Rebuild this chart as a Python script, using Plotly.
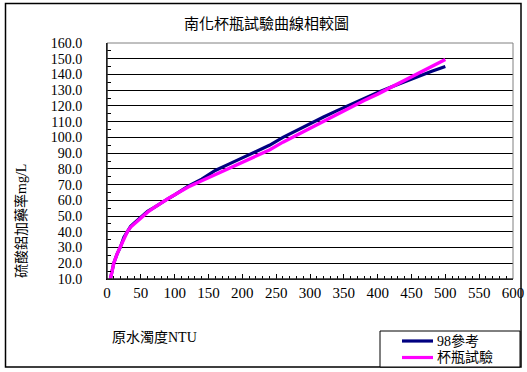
import plotly.graph_objects as go

# 原水濁度 (NTU)
turbidity = [5, 10, 15, 20, 25, 30, 35, 40, 50, 60, 70, 80, 90, 100, 120, 140, 160, 180, 200,
             220, 240, 260, 280, 300, 320, 340, 360, 380, 400, 420, 440, 460, 480, 500]

# 98參考 加藥率 (mg/L)
ref98 = [10.0, 20.0, 26.0, 30.5, 36.5, 40.5, 43.5, 45.5, 49.5, 53.0, 55.5, 58.5, 61.0, 63.5,
         69.0, 73.5, 79.0, 83.0, 87.0, 91.0, 95.0, 100.0, 104.5, 109.0, 113.0, 117.0, 121.0,
         125.0, 128.5, 132.0, 135.5, 139.0, 142.0, 145.0]

# 杯瓶試驗 加藥率 (mg/L)
jar_test = [10.0, 20.0, 26.0, 30.5, 36.0, 40.0, 43.0, 45.0, 49.0, 52.5, 55.5, 58.5, 61.0, 63.5,
            68.5, 72.5, 76.5, 80.5, 84.5, 88.0, 92.0, 97.0, 101.5, 106.0, 110.5, 115.0, 119.0,
            123.5, 127.5, 132.0, 136.5, 141.0, 145.0, 149.5]

series_names = ["98參考", "杯瓶試驗"]
series_colors = ["#000080", "#FF00FF"]

y_ticks = [10, 20, 30, 40, 50, 60, 70, 80, 90, 100, 110, 120, 130, 140, 150, 160]
y_tick_text = [f"{v:.1f}" for v in y_ticks]
x_ticks = [0, 50, 100, 150, 200, 250, 300, 350, 400, 450, 500, 550, 600]

W, H = 527, 372
L, R, T, B = 107, 14, 43, 93
PW, PH = W - L - R, H - T - B


def px(x):
    return (x - L) / PW


def py(y):
    return (H - B - y) / PH


NUM_FONT = "Liberation Serif"
CJK_FONT = "Noto Sans CJK TC"
MIX_FONT = f"{NUM_FONT}, {CJK_FONT}"

fig = go.Figure()
fig.add_trace(go.Scatter(x=turbidity, y=ref98, mode="lines", name=series_names[0],
                         line=dict(color=series_colors[0], width=3.2)))
fig.add_trace(go.Scatter(x=turbidity, y=jar_test, mode="lines", name=series_names[1],
                         line=dict(color=series_colors[1], width=3.4)))

fig.update_layout(
    width=W, height=H,
    margin=dict(l=L, r=R, t=T, b=B, autoexpand=False),
    paper_bgcolor="white", plot_bgcolor="white",
    showlegend=False,
    xaxis=dict(range=[0, 600], tickvals=x_ticks, showgrid=False,
               showline=True, linecolor="black", linewidth=1,
               ticks="inside", ticklen=5, tickcolor="black",
               minor=dict(dtick=10, ticks="inside", ticklen=3, tickcolor="black", showgrid=False),
               tickfont=dict(family=NUM_FONT, size=15, color="black"),
               ticklabelstandoff=0, zeroline=False, fixedrange=True),
    yaxis=dict(range=[10, 160], tickvals=y_ticks, ticktext=y_tick_text,
               showgrid=True, gridcolor="black", gridwidth=1,
               showline=True, linecolor="black", linewidth=1,
               ticks="inside", ticklen=4, tickcolor="black",
               minor=dict(dtick=5, ticks="inside", ticklen=4, tickcolor="black", showgrid=False),
               tickfont=dict(family=NUM_FONT, size=14, color="black"),
               ticklabelstandoff=21, zeroline=False, fixedrange=True),
)

# plot-area frame (top and right edges in gray)
fig.add_shape(type="rect", xref="paper", yref="paper", x0=0, x1=1, y0=0, y1=1,
              line=dict(color="#808080", width=1), fillcolor="rgba(0,0,0,0)", layer="above")
fig.add_shape(type="line", xref="paper", yref="paper", x0=0, x1=0, y0=0, y1=1,
              line=dict(color="black", width=1), layer="above")
fig.add_shape(type="line", xref="paper", yref="paper", x0=0, x1=1, y0=0, y1=0,
              line=dict(color="black", width=1), layer="above")

# outer chart border
fig.add_shape(type="rect", xref="paper", yref="paper",
              x0=px(5.5), x1=px(521), y0=py(367), y1=py(3.5),
              line=dict(color="black", width=1.5), fillcolor="rgba(0,0,0,0)")

# legend box with line keys
fig.add_shape(type="rect", xref="paper", yref="paper",
              x0=px(380), x1=px(520), y0=py(367), y1=py(331),
              line=dict(color="black", width=1), fillcolor="white")
for i, (name, color) in enumerate(zip(series_names, series_colors)):
    ky = 341 + i * 16.5
    fig.add_shape(type="line", xref="paper", yref="paper",
                  x0=px(402), x1=px(433), y0=py(ky), y1=py(ky),
                  line=dict(color=color, width=3.2))
    fig.add_annotation(text=name, xref="paper", yref="paper",
                       x=px(435), y=py(ky), xanchor="left", yanchor="middle",
                       showarrow=False, font=dict(family=MIX_FONT, size=14, color="black"))

# chart title
fig.add_annotation(text="南化杯瓶試驗曲線相較圖", xref="paper", yref="paper",
                   x=px(266), y=py(22.5), xanchor="center", yanchor="middle",
                   showarrow=False, font=dict(family=CJK_FONT, size=15, color="black"))

# axis titles
fig.add_annotation(text="硫酸鋁加藥率mg/L", xref="paper", yref="paper",
                   x=px(21), y=py(221), xanchor="center", yanchor="middle", textangle=-90,
                   showarrow=False, font=dict(family=MIX_FONT, size=14, color="black"))
fig.add_annotation(text="原水濁度NTU", xref="paper", yref="paper",
                   x=px(110), y=py(337), xanchor="left", yanchor="middle",
                   showarrow=False, font=dict(family=MIX_FONT, size=14, color="black"))

fig.write_html("out.html")
